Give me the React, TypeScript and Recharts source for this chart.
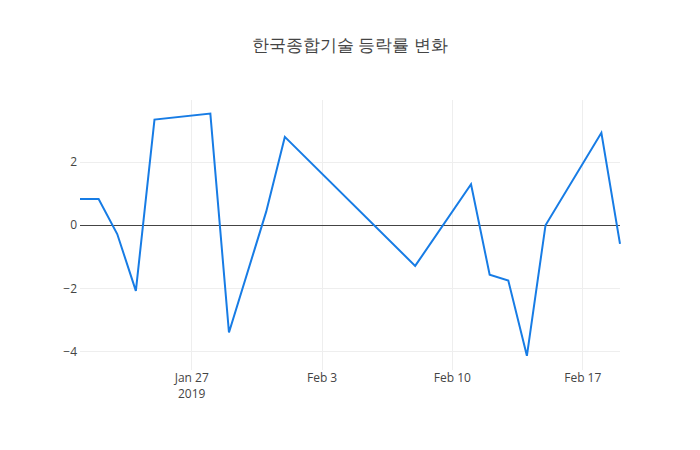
import React from 'react';
import {CartesianGrid, Line, LineChart, ReferenceLine, XAxis, YAxis} from 'recharts';

// trading days and daily change (%)
const dates = [
    '2019-01-21', '2019-01-22', '2019-01-23', '2019-01-24', '2019-01-25',
    '2019-01-28', '2019-01-29', '2019-01-31', '2019-02-01', '2019-02-08',
    '2019-02-11', '2019-02-12', '2019-02-13', '2019-02-14', '2019-02-15',
    '2019-02-18', '2019-02-19',
];
const changes = [
    0.83, 0.83, -0.28, -2.08, 3.35,
    3.54, -3.40, 0.43, 2.80, -1.29,
    1.30, -1.57, -1.75, -4.14, 0.0,
    2.93, -0.59,
];
const xTickDates = ['2019-01-27', '2019-02-03', '2019-02-10', '2019-02-17'];
const yTicks = [-4, -2, 0, 2];
const title = '한국종합기술 등락률 변화';

const MONTHS = ['Jan', 'Feb', 'Mar', 'Apr', 'May', 'Jun', 'Jul', 'Aug', 'Sep', 'Oct', 'Nov', 'Dec'];
const FONT = '"Open Sans", Verdana, Arial, sans-serif';

const toTime = (s: string) => Date.parse(s + 'T00:00:00Z');

const data = dates.map((d, i) => ({t: toTime(d), v: changes[i]}));
const xTicks = xTickDates.map(toTime);

const DateTick = ({x, y, payload}: any) => {
    const d = new Date(payload.value);
    const label = `${MONTHS[d.getUTCMonth()]} ${d.getUTCDate()}`;
    const first = payload.value === xTicks[0];
    return (
        <g transform={`translate(${x},${y})`}>
            <text textAnchor="middle" fill="#444" fontSize={12} fontFamily={FONT} y={12}>{label}</text>
            {first && <text textAnchor="middle" fill="#444" fontSize={12} fontFamily={FONT} y={27.6}>
                {d.getUTCFullYear()}
            </text>}
        </g>
    );
};

const fmtY = (v: number) => (v < 0 ? '\u2212' + Math.abs(v) : String(v));

export default function App() {
    return (
        <div style={{position: 'absolute', left: 0, top: 0, width: 700, height: 450, background: '#fff'}}>
            <div style={{
                position: 'absolute', left: 0, top: 33, width: 700, textAlign: 'center',
                fontFamily: FONT, fontSize: 17, color: '#444',
            }}>{title}</div>
            <LineChart width={700} height={450} data={data}
                       margin={{top: 100, right: 80, bottom: 0, left: 0}}>
                <CartesianGrid stroke="#eee" strokeWidth={1} shapeRendering="crispEdges"
                               horizontalValues={yTicks} verticalValues={xTicks}/>
                <XAxis dataKey="t" type="number" scale="linear"
                       domain={[toTime(dates[0]), toTime(dates[dates.length - 1])]}
                       ticks={xTicks} tick={<DateTick/>} height={80}
                       axisLine={false} tickLine={false} tickSize={0} tickMargin={0}
                       interval={0}/>
                <YAxis type="number" domain={[-4.59, 3.97]} ticks={yTicks} width={80}
                       axisLine={false} tickLine={false} tickSize={0} tickMargin={3}
                       tickFormatter={fmtY} allowDataOverflow
                       tick={{fill: '#444', fontSize: 12, fontFamily: FONT}}/>
                <ReferenceLine y={0} stroke="#444" strokeWidth={1} shapeRendering="crispEdges"/>
                <Line type="linear" dataKey="v" stroke="#177ce5" strokeWidth={2}
                      dot={false} isAnimationActive={false}/>
            </LineChart>
        </div>
    );
}
